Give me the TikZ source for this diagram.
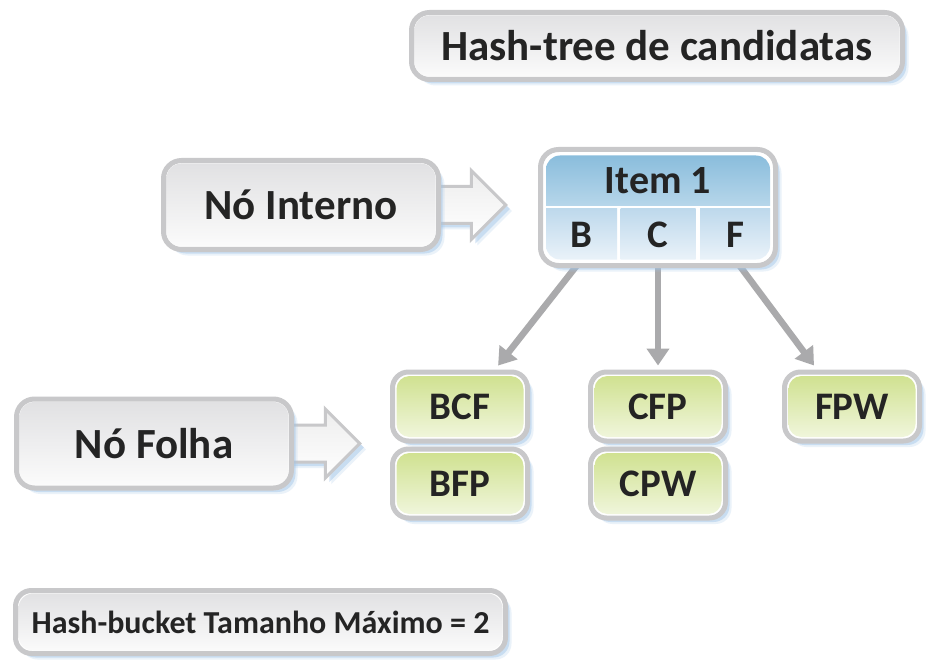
\documentclass[tikz,border=0pt]{standalone}
\usepackage{fontspec}
\setmainfont{Carlito}
\usetikzlibrary{arrows.meta,shapes.arrows,shadows,calc}

\definecolor{bordergray}{RGB}{200,200,202}
\definecolor{boxtop}{RGB}{224,224,226}
\definecolor{boxbot}{RGB}{252,252,252}
\definecolor{leaftop}{RGB}{206,224,140}
\definecolor{leafbot}{RGB}{242,247,224}
\definecolor{hdrtop}{RGB}{138,189,220}
\definecolor{hdrbot}{RGB}{182,214,234}
\definecolor{celltop}{RGB}{190,217,236}
\definecolor{cellbot}{RGB}{234,242,249}
\definecolor{conngray}{RGB}{170,170,172}
\definecolor{shadowblue}{RGB}{160,196,232}
\definecolor{ink}{RGB}{36,36,36}

\pgfdeclarelayer{canvas}
\pgfdeclarelayer{background}
\pgfsetlayers{canvas,background,main}

\tikzset{
  softshadow/.style={
    general shadow={shadow xshift=6pt,shadow yshift=-6pt,fill=shadowblue,opacity=.22},
    general shadow={shadow xshift=4pt,shadow yshift=-4pt,fill=shadowblue,opacity=.45}},
  panel/.style={rectangle, rounded corners=18pt, draw=bordergray, line width=5pt,
    fill=white, softshadow, text=ink, inner sep=0pt,
    font=\bfseries\fontsize{43}{48}\selectfont},
  panelfill/.style 2 args={path picture={
    \shade[top color=#1,bottom color=#2,rounded corners=15pt]
      ([shift={(3pt,-3pt)}]path picture bounding box.north west) rectangle
      ([shift={(-3pt,3pt)}]path picture bounding box.south east);}},
  leaf/.style={panel, rounded corners=16pt, minimum width=135pt, minimum height=69pt,
    font=\bfseries\fontsize{39}{44}\selectfont,
    path picture={
    \shade[top color=leaftop,bottom color=leafbot,rounded corners=13pt]
      ([shift={(4pt,-4pt)}]path picture bounding box.north west) rectangle
      ([shift={(-4pt,4pt)}]path picture bounding box.south east);}},
  blockarrow/.style={single arrow, single arrow head extend=16pt,
    single arrow tip angle=90, inner xsep=0pt, inner ysep=17pt,
    minimum height=75pt, draw=bordergray, line width=3pt,
    top color=gray!14, bottom color=white, softshadow},
  cell/.style={rectangle, inner sep=0pt, text=ink,
    font=\bfseries\fontsize{39}{44}\selectfont},
  conn/.style={draw=conngray, line width=6.5pt,
    -{Triangle[length=17pt,width=22pt]}},
}

\begin{document}
\begin{tikzpicture}[x=1pt,y=-1pt]
\begin{pgfonlayer}{canvas}
  \fill[white] (0,0) rectangle (930,666);
\end{pgfonlayer}
\useasboundingbox (0,0) rectangle (930,666);

% title
\node[panel, panelfill={boxtop}{boxbot}, minimum width=491pt, minimum height=67pt]
  (title) at (657,46) {Hash-tree de candidatas};

% legend boxes with their pointers
\node[blockarrow] (arrI) at (459,205) {};
\node[panel, panelfill={boxtop}{boxbot}, minimum width=275pt, minimum height=89pt]
  (interno) at (301,205) {Nó Interno};

\node[blockarrow] (arrF) at (313,443.5) {};
\node[panel, panelfill={boxtop}{boxbot}, minimum width=275pt, minimum height=89pt]
  (folha) at (154,443.5) {Nó Folha};

% internal node
\node[panel, minimum width=235pt, minimum height=116pt] (item) at (658,207.5) {};
\begin{scope}
  \clip[rounded corners=14pt] (546,155.5) rectangle (770,259.5);
  \node[cell, minimum width=226pt, minimum height=50pt, top color=hdrtop, bottom color=hdrbot,
    font=\bfseries\fontsize{40}{44}\selectfont] (hdr) at (658,180.5) {Item 1};
  \node[cell, minimum width=72pt, minimum height=51pt, top color=celltop, bottom color=cellbot]
    (cB) at (581,234.5) {B};
  \node[cell, minimum width=75pt, minimum height=51pt, top color=celltop, bottom color=cellbot]
    (cC) at (658,234.5) {C};
  \node[cell, minimum width=71pt, minimum height=51pt, top color=celltop, bottom color=cellbot]
    (cF) at (735.5,234.5) {F};
\end{scope}

% leaf buckets
\node[leaf] (bcf) at (460,406.5) {BCF};
\node[leaf] (bfp) at (460,483.5) {BFP};
\node[leaf] (cfp) at (658,406.5) {CFP};
\node[leaf] (cpw) at (658,483.5) {CPW};
\node[leaf] (fpw) at (852,406.5) {FPW};

% bucket size note
\node[panel, panelfill={boxtop}{boxbot}, minimum width=490pt, minimum height=63pt,
  rounded corners=16pt, font=\bfseries\fontsize{32}{38}\selectfont]
  (note) at (260.5,622) {Hash-bucket Tamanho Máximo = 2};

% hash links
\begin{pgfonlayer}{background}
  \draw[conn, shorten >=5pt] (cB.south) -- ($(bcf.north)!0.5!(bcf.north east)$);
  \draw[conn, shorten >=4pt] (cC.south) -- (cfp.north);
  \draw[conn, shorten >=5pt] (cF.south) -- ($(fpw.north)!0.5!(fpw.north west)$);
\end{pgfonlayer}
\end{tikzpicture}
\end{document}
